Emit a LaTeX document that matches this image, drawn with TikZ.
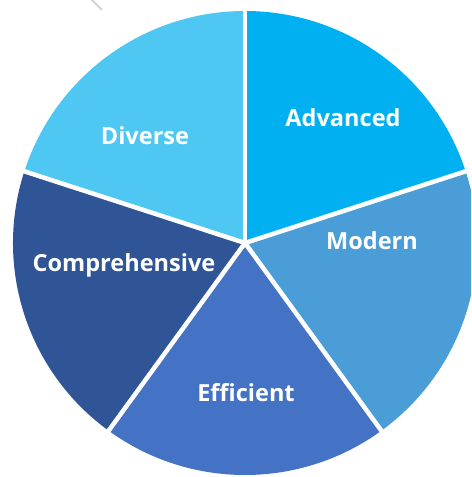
\documentclass[tikz,border=0pt]{standalone}
\usepackage{fontspec}
\setmainfont{Open Sans}
\usepackage{xcolor}
\usepackage{tikz}
\usetikzlibrary{positioning}
\definecolor{diverse}{HTML}{4EC7F3}
\definecolor{advanced}{HTML}{00B0F0}
\definecolor{modern}{HTML}{4A9DD7}
\definecolor{efficient}{HTML}{4472C4}
\definecolor{compreh}{HTML}{2F5597}
\definecolor{guide}{HTML}{D4D4D4}

\begin{document}
\begin{tikzpicture}[x=0.02cm, y=0.02cm]
  % one unit = one pixel, origin at the centre of the pie
  \def\rad{232}
  \useasboundingbox (-245,-234) rectangle (226,243);
  \clip (-245,-234) rectangle (226,243);

  \tikzset{lbl/.style={text=white, font=\fontsize{13.4}{15}\selectfont\bfseries}}

  % five equal wedges, clockwise from the top
  \foreach \a/\clr in {
    90/advanced,
    18/modern,
    -54/efficient,
    -126/compreh,
    162/diverse}{
    \fill[\clr] (0,0) -- (\a:\rad)
      arc[start angle=\a, end angle=\a-72, radius=\rad] -- cycle;
  }
  % white gaps between wedges
  \foreach \a in {90,18,-54,-126,162}{
    \draw[white, line width=0.09cm] (0,0) -- (\a:\rad+4);
  }

  % Wedge labels
  \node[lbl] (adv)  at (98,125)   {Advanced};
  \node[lbl] (mod)  at (127,2)    {Modern};
  \node[lbl] (eff)  at (1,-150)   {Efficient};
  \node[lbl] (comp) at (-121,-22) {Comprehensive};
  \node[lbl] (div)  at (-100,107) {Diverse};

  % stray guide line
  \draw[guide, line width=0.04cm] (-155,245) -- (-143,233);
\end{tikzpicture}
\end{document}
